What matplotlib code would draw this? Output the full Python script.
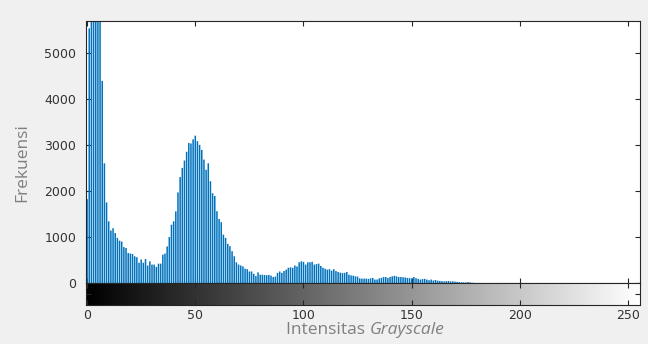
import numpy as np
import matplotlib
matplotlib.use("Agg")
import matplotlib.pyplot as plt

# ---- data: histogram counts for intensity 0..255 ----
counts_0_49 = [1820, 5530, 6000, 6000, 6000, 6000, 6000, 4390, 2600, 1750,
               1340, 1140, 1190, 1085, 980, 920, 900, 780, 760, 650,
               640, 630, 580, 560, 440, 510, 440, 520, 380, 470,
               400, 400, 350, 420, 420, 615, 640, 795, 1000, 1265,
               1340, 1555, 1967, 2300, 2500, 2660, 2850, 3040, 3030, 3120]
counts_50_99 = [3200, 3080, 3000, 2890, 2680, 2460, 2600, 2210, 1950, 1890,
                1560, 1390, 1320, 1050, 980, 850, 800, 690, 580, 450,
                400, 380, 360, 310, 300, 250, 250, 200, 150, 230,
                180, 180, 175, 170, 175, 160, 130, 140, 220, 250,
                220, 260, 290, 330, 340, 330, 380, 360, 450, 470]
counts_100_149 = [460, 400, 450, 450, 460, 400, 410, 420, 370, 330,
                  310, 290, 300, 270, 300, 260, 240, 225, 215, 220,
                  240, 180, 165, 160, 145, 140, 100, 95, 95, 95,
                  90, 100, 110, 75, 75, 100, 110, 130, 130, 110,
                  130, 145, 155, 145, 130, 130, 125, 120, 110, 105]
counts_150_199 = [100, 130, 105, 90, 75, 85, 90, 75, 60, 75,
                  55, 65, 50, 45, 40, 35, 40, 45, 35, 35,
                  30, 25, 20, 15, 15, 10, 20, 12, 5, 3] + [0] * 20
counts_200_255 = [0] * 56
counts = np.array(counts_0_49 + counts_50_99 + counts_100_149
                  + counts_150_199 + counts_200_255)
intensity = np.arange(256)

y_ticks = [0, 1000, 2000, 3000, 4000, 5000]
x_ticks = [0, 50, 100, 150, 200, 250]
y_label = "Frekuensi"
x_label_a = "Intensitas "
x_label_b = "Grayscale"

# ---- figure ----
W, H, DPI = 648, 344, 100
fig = plt.figure(figsize=(W / DPI, H / DPI), dpi=DPI, facecolor="#f0f0f0")

def fx(px):
    return px / W

def fy(py):
    return 1 - py / H

left, right = 86, 640
top, mid, bot = 21, 283, 305
ax = fig.add_axes([fx(left), fy(mid), fx(right - left), fy(top) - fy(mid)])
cax = fig.add_axes([fx(left), fy(bot), fx(right - left), fy(mid) - fy(bot)])

spine_col = "#262626"
tick_col = "#262626"

ax.set_facecolor("white")
nz = counts > 0
ax.vlines(intensity[nz], 0, counts[nz], colors="#0072BD", linewidth=1.1,
          snap=False, antialiased=True)
ax.set_xlim(-0.5, 255.5)
ax.set_ylim(0, 5690)
ax.set_yticks(y_ticks)
ax.set_yticklabels([str(v) for v in y_ticks])
ax.set_xticks(x_ticks)
ax.set_xticklabels([])
ax.tick_params(axis="both", direction="in", length=3.5, width=0.8,
               color=tick_col, top=True, right=True, bottom=True, left=True,
               labelsize=9, labelcolor="#333333", pad=7)
for s in ax.spines.values():
    s.set_color(spine_col)
    s.set_linewidth(0.8)
    s.set_zorder(3)

grad = np.linspace(0, 1, 256).reshape(1, -1)
cax.imshow(grad, cmap="gray", aspect="auto", extent=(-0.5, 255.5, 0, 1),
           vmin=0, vmax=1, interpolation="bilinear")
cax.set_xlim(-0.5, 255.5)
cax.set_ylim(0, 1)
cax.set_xticks(x_ticks)
cax.set_xticklabels([str(v) for v in x_ticks])
cax.set_yticks([0.5])
cax.set_yticklabels([])
cax.tick_params(axis="both", direction="in", length=3.5, width=0.8,
                color=tick_col, top=True, right=True, bottom=True, left=True,
                labelsize=9, labelcolor="#333333", pad=3)
for s in cax.spines.values():
    s.set_color(spine_col)
    s.set_linewidth(0.8)

label_col = "#7f7f7f"
fig.text(fx(22), fy(163), y_label, rotation=90, ha="center", va="center",
         fontsize=12.5, color=label_col, family="Open Sans")

# x label with italic part, centered at px 365
fig.canvas.draw()
r = fig.canvas.get_renderer()
ta = fig.text(0, fy(330), x_label_a, ha="left", va="center", fontsize=12.5,
              color=label_col, family="Open Sans")
tb = fig.text(0, fy(330), x_label_b, ha="left", va="center", fontsize=12.5,
              color=label_col, family="Open Sans", style="italic")
wa = ta.get_window_extent(r).width
wb = tb.get_window_extent(r).width
x0 = 365 - (wa + wb) / 2
ta.set_x(fx(x0))
tb.set_x(fx(x0 + wa))

fig.savefig("out.png", dpi=DPI, facecolor=fig.get_facecolor())
